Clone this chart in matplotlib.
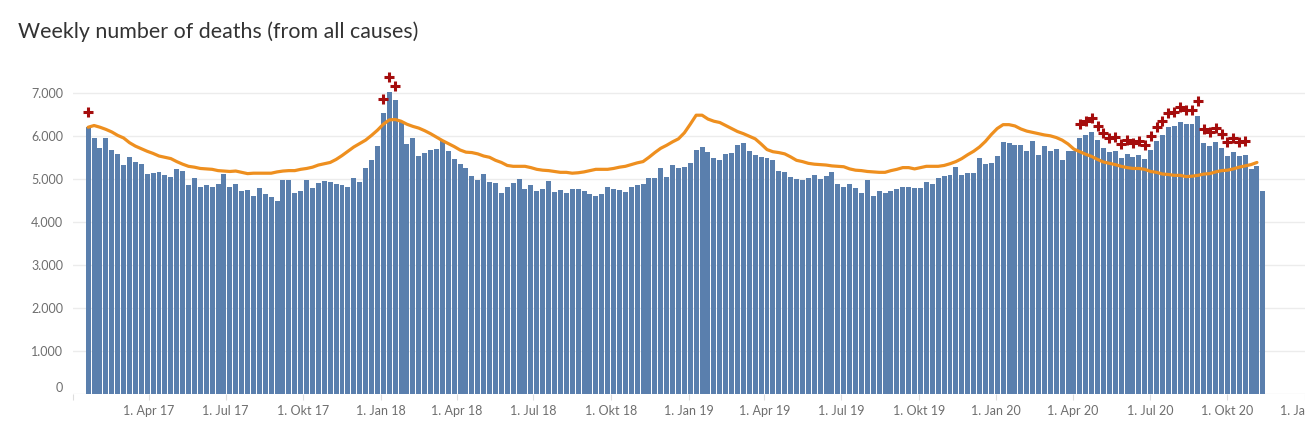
import numpy as np
import pandas as pd
import matplotlib
matplotlib.use("Agg")
import matplotlib.pyplot as plt
import matplotlib.transforms as mtransforms
from matplotlib.ticker import FuncFormatter

plt.rcParams['font.family'] = ['Lato', 'DejaVu Sans']

# Wochen (Mitte der Kalenderwoche), KW 3/2017 bis KW 46/2020
weeks = pd.date_range('2017-01-19', periods=200, freq='7D')

deaths = [
    6220, 5960, 5720, 5960, 5680, 5580, 5330, 5510, 5400, 5350,
    5120, 5140, 5160, 5090, 5050, 5230, 5190, 4860, 5020, 4810,
    4860, 4810, 4880, 5120, 4810, 4880, 4720, 4740, 4600, 4790,
    4650, 4580, 4490, 4980, 4980, 4670, 4720, 4980, 4790, 4910,
    4950, 4930, 4880, 4860, 4810, 5020, 4930, 5260, 5440, 5770,
    6540, 7030, 6840, 6330, 5820, 5960, 5540, 5610, 5680, 5700,
    5890, 5650, 5470, 5350, 5260, 5070, 4980, 5120, 4930, 4910,
    4670, 4810, 4910, 5000, 4770, 4860, 4720, 4770, 4950, 4700,
    4740, 4670, 4770, 4770, 4720, 4650, 4600, 4650, 4810, 4770,
    4740, 4700, 4810, 4860, 4880, 5020, 5020, 5260, 5050, 5330,
    5260, 5280, 5370, 5680, 5750, 5630, 5490, 5440, 5580, 5610,
    5790, 5840, 5650, 5560, 5510, 5490, 5440, 5190, 5160, 5050,
    5000, 4980, 5020, 5090, 5000, 5070, 5160, 4880, 4810, 4880,
    4790, 4670, 4980, 4600, 4720, 4670, 4720, 4770, 4810, 4810,
    4790, 4790, 4930, 4880, 5020, 5070, 5090, 5280, 5090, 5140,
    5140, 5490, 5350, 5370, 5540, 5860, 5840, 5790, 5790, 5650,
    5890, 5560, 5770, 5650, 5700, 5440, 5650, 5650, 5960, 6030,
    6100, 5910, 5720, 5630, 5650, 5490, 5580, 5510, 5560, 5470,
    5680, 5890, 6030, 6210, 6240, 6330, 6280, 6280, 6470, 5840,
    5770, 5860, 5720, 5540, 5630, 5540, 5560, 5230, 5300, 4720,
]

# Erwartungswert (fehlt für die letzte Woche)
expected = [
    6210, 6250, 6210, 6160, 6100, 6020, 5960, 5850, 5770, 5710,
    5650, 5600, 5540, 5510, 5480, 5410, 5350, 5300, 5280, 5250,
    5240, 5230, 5200, 5190, 5180, 5190, 5160, 5130, 5140, 5140,
    5140, 5140, 5170, 5190, 5200, 5200, 5230, 5250, 5280, 5330,
    5360, 5390, 5460, 5550, 5650, 5750, 5830, 5910, 6020, 6140,
    6280, 6380, 6390, 6350, 6280, 6230, 6190, 6130, 6060, 5980,
    5900, 5830, 5760, 5680, 5630, 5620, 5590, 5540, 5510, 5440,
    5390, 5320, 5300, 5300, 5300, 5270, 5230, 5210, 5200, 5180,
    5160, 5160, 5140, 5150, 5170, 5200, 5230, 5230, 5230, 5250,
    5280, 5300, 5340, 5380, 5410, 5510, 5620, 5720, 5790, 5870,
    5940, 6080, 6280, 6490, 6490, 6400, 6350, 6320, 6250, 6180,
    6110, 6060, 6000, 5940, 5820, 5690, 5640, 5620, 5590, 5520,
    5440, 5410, 5370, 5350, 5340, 5330, 5310, 5300, 5290, 5240,
    5210, 5200, 5180, 5170, 5160, 5160, 5200, 5230, 5270, 5270,
    5240, 5270, 5300, 5300, 5300, 5320, 5360, 5410, 5480, 5570,
    5650, 5750, 5880, 6040, 6180, 6270, 6270, 6240, 6170, 6120,
    6090, 6060, 6030, 6010, 5970, 5910, 5820, 5700, 5640, 5580,
    5530, 5460, 5400, 5370, 5340, 5300, 5270, 5250, 5250, 5230,
    5180, 5160, 5120, 5110, 5090, 5090, 5060, 5070, 5090, 5120,
    5130, 5170, 5200, 5210, 5240, 5280, 5310, 5340, 5390,
]

# Wochen mit Übersterblichkeit (Index) und Markerwert
excess_idx = [0, 50, 51, 52] + list(range(168, 197))
excess_val = [
    6560, 6870, 7370, 7180,
    6290, 6360, 6430, 6250, 6070, 5970, 5990, 5830, 5920, 5850,
    5900, 5800, 6010, 6220, 6360, 6550, 6570, 6670, 6620, 6620,
    6810, 6170, 6110, 6200, 6060, 5870, 5970, 5870, 5900,
]

bar_col = '#5a7fad'
line_col = '#ee8f1f'
mark_col = '#a50d0d'

fig = plt.figure(figsize=(13.05, 4.24), dpi=100)
ax = fig.add_axes([73 / 1305, 30 / 424, 1 - 73 / 1305, 334 / 424])

ax.bar(weeks, deaths, width=5.9, color=bar_col, zorder=2)
ax.plot(weeks[:len(expected)], expected, color=line_col, lw=2.3, zorder=3,
        solid_capstyle='round')
ax.plot(weeks[excess_idx], excess_val, ls='none', marker='+', ms=7.5,
        mew=2.2, color=mark_col, zorder=4)

ax.set_xlim(pd.Timestamp('2017-01-01'), pd.Timestamp('2020-12-15'))
ax.set_ylim(0, 7775)

# Achsen
ax.set_yticks(range(0, 8000, 1000))
ax.yaxis.set_major_formatter(FuncFormatter(lambda v, p: f'{int(v):,}'.replace(',', '.')))
ax.grid(axis='y', color='#ececec', lw=1, zorder=0)
ax.set_axisbelow(True)
for s in ax.spines.values():
    s.set_visible(False)
ax.tick_params(axis='y', length=0, pad=7, labelsize=9, labelcolor='#6e6e6e')

qticks = pd.date_range('2017-01-01', '2021-01-01', freq='QS')
mon = {1: 'Jan', 4: 'Apr', 7: 'Jul', 10: 'Okt'}
qlabels = ['' if i == 0 else f'1. {mon[d.month]} {d.year % 100}' for i, d in enumerate(qticks)]
ax.set_xticks(qticks)
ax.set_xticklabels(qlabels)
ax.tick_params(axis='x', length=4, width=0.8, color='#dddddd', pad=4,
               labelsize=9, labelcolor='#6e6e6e')

# "0" etwas angehoben wie im Original
off = mtransforms.ScaledTranslation(0, 7 / 100, fig.dpi_scale_trans)
ylabs = ax.get_yticklabels()
ylabs[0].set_transform(ylabs[0].get_transform() + off)

fig.text(18 / 1305, 1 - 32 / 424, 'Weekly number of deaths (from all causes)',
         fontsize=15.4, color='#333333', va='center', ha='left')

fig.savefig('out.png', dpi=100)
